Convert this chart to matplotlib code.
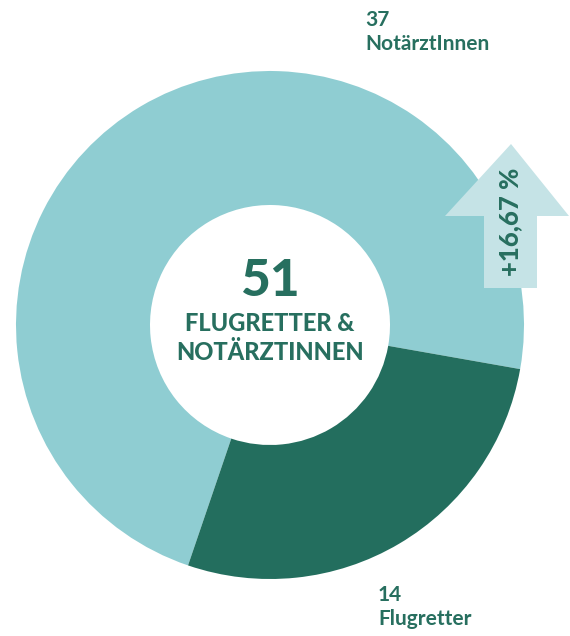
import numpy as np
import matplotlib
import matplotlib.pyplot as plt
from matplotlib.patches import Polygon
matplotlib.use('Agg')

# data
values = [37, 14]
labels = ['NotärztInnen', 'Flugretter']
total = sum(values)
change_label = '+16,67 %'

light = '#8fcdd2'
dark = '#236e5e'
arrow_col = '#c5e3e6'
text_col = '#276f5f'

W, H = 570, 636
fig = plt.figure(figsize=(W / 100, H / 100), dpi=100)
ax = fig.add_axes([0, 0, 1, 1])

cx, cy = 270, H - 325
ax.pie(values, colors=[light, dark], startangle=-10, counterclock=True,
       radius=254, center=(cx, cy), frame=True,
       wedgeprops=dict(width=254 - 120, linewidth=0))
ax.set_xlim(0, W)
ax.set_ylim(0, H)
ax.set_aspect('equal')
ax.axis('off')

# arrow
arrow = Polygon([(484, H - 288), (537, H - 288), (537, H - 216), (569, H - 216),
                 (511, H - 144), (445, H - 216), (484, H - 216)],
                closed=True, facecolor=arrow_col, edgecolor='none', zorder=3)
ax.add_patch(arrow)
ax.text(510, H - 222, change_label, rotation=90, ha='center', va='center',
        fontsize=18.5, fontweight='black', family='Lato', color=text_col, zorder=4)

# center text
ax.text(cx, H - 281, str(total), ha='center', va='center', fontsize=37,
        fontweight='black', family='Lato', color=text_col)
ax.text(cx, H - 338, 'FLUGRETTER &\nNOTÄRZTINNEN', ha='center', va='center',
        fontsize=17, fontweight='black', family='Lato', color=text_col,
        linespacing=1.3)

# outer labels
ax.text(365, H - 10, f'{values[0]}\n{labels[0]}', ha='left', va='top',
        fontsize=15, fontweight='bold', family='Lato', color=text_col,
        linespacing=1.25)
ax.text(378, H - 585, f'{values[1]}\n{labels[1]}', ha='left', va='top',
        fontsize=15, fontweight='bold', family='Lato', color=text_col,
        linespacing=1.25)

fig.savefig('out.png', dpi=100)
